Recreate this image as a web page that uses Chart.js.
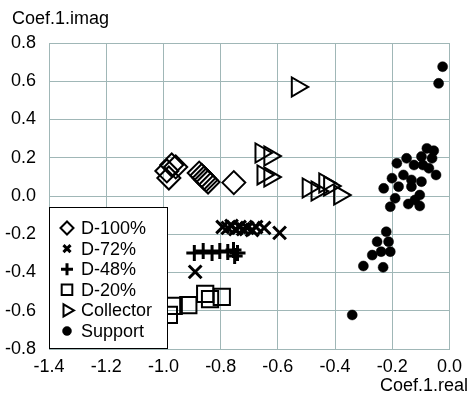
<!DOCTYPE html>
<html>
<head>
<meta charset="utf-8">
<script src="https://cdn.jsdelivr.net/npm/chart.js@4"></script>
<style>
  html, body { margin: 0; padding: 0; background: #fff; }
  #c { display: block; }
</style>
</head>
<body>
<canvas id="c" width="469" height="397"></canvas>
<script>
// Axis ticks
const xTicks = [-1.4, -1.2, -1.0, -0.8, -0.6, -0.4, -0.2, 0.0];
const yTicks = [-0.8, -0.6, -0.4, -0.2, 0.0, 0.2, 0.4, 0.6, 0.8];

// Series labels
const seriesNames = ['D-100%', 'D-72%', 'D-48%', 'D-20%', 'Collector', 'Support'];

// D-100%
const d100Re = [-0.988, -0.971, -0.957, -0.981, -0.875, -0.866, -0.858, -0.851, -0.844, -0.754];
const d100Im = [0.131, 0.162, 0.152, 0.094, 0.120, 0.107, 0.094, 0.084, 0.073, 0.070];

// D-72%
const d72Re = [-0.793, -0.775, -0.762, -0.748, -0.734, -0.721, -0.707, -0.690, -0.676, -0.648, -0.594, -0.889];
const d72Im = [-0.162, -0.167, -0.157, -0.173, -0.162, -0.173, -0.167, -0.178, -0.162, -0.167, -0.193, -0.397];

// D-48%
const d48Re = [-0.892, -0.861, -0.830, -0.803, -0.775, -0.755, -0.751, -0.741];
const d48Im = [-0.298, -0.288, -0.298, -0.288, -0.293, -0.282, -0.314, -0.298];

// D-20%
const d20Re = [-0.981, -0.964, -0.913, -0.854, -0.837, -0.796];
const d20Im = [-0.622, -0.575, -0.570, -0.512, -0.539, -0.528];

// Collector
const colRe = [-0.532, -0.659, -0.628, -0.652, -0.628, -0.494, -0.463, -0.436, -0.419, -0.384];
const colIm = [0.570, 0.225, 0.209, 0.110, 0.099, 0.042, 0.026, 0.068, 0.052, 0.005];

// Support
const supRe = [-0.024, -0.038, -0.079, -0.055, -0.098, -0.061, -0.150, -0.184, -0.124, -0.093,
               -0.072, -0.047, -0.201, -0.161, -0.133, -0.098, -0.230, -0.178, -0.133, -0.190,
               -0.104, -0.121, -0.207, -0.144, -0.104, -0.221, -0.253, -0.213, -0.270, -0.239,
               -0.207, -0.301, -0.232, -0.340];
const supIm = [0.676, 0.589, 0.249, 0.237, 0.206, 0.197, 0.197, 0.171, 0.162, 0.162,
               0.145, 0.110, 0.093, 0.110, 0.084, 0.075, 0.040, 0.049, 0.049, -0.012,
               0.005, -0.021, -0.056, -0.042, -0.052, -0.187, -0.239, -0.239, -0.309, -0.291,
               -0.291, -0.366, -0.373, -0.622];

const pts = (xs, ys) => xs.map((x, i) => ({ x: x, y: ys[i] }));

const FONT = 'Arial, "Liberation Sans", sans-serif';
const FSIZE = 18;
const GRID = '#a0b7b7';
const HOLLOW = 'rgba(0,0,0,0)';

// marker styles: chart marker and smaller legend marker
const markers = [
  { style: 'rectRot',  rot: 0,  r: 11.5, lr: 6.5, bw: 2,   fill: HOLLOW },
  { style: 'crossRot', rot: 0,  r: 9,    lr: 5,   bw: 3,   fill: '#000' },
  { style: 'cross',    rot: 0,  r: 8,    lr: 6,   bw: 3,   fill: '#000' },
  { style: 'rect',     rot: 0,  r: 11.5, lr: 7.5, bw: 2,   fill: HOLLOW },
  { style: 'triangle', rot: 90, r: 11,   lr: 7,   bw: 2,   fill: HOLLOW },
  { style: 'circle',   rot: 0,  r: 5,    lr: 4.5, bw: 0.5, fill: '#000' }
];

const seriesData = [
  pts(d100Re, d100Im), pts(d72Re, d72Im), pts(d48Re, d48Im),
  pts(d20Re, d20Im), pts(colRe, colIm), pts(supRe, supIm)
];

const datasets = seriesData.map((data, i) => ({
  label: seriesNames[i],
  data: data,
  pointStyle: markers[i].style,
  rotation: markers[i].rot,
  pointRadius: markers[i].r,
  pointHoverRadius: markers[i].r,
  borderWidth: markers[i].bw,
  borderColor: '#000',
  backgroundColor: markers[i].fill,
  showLine: false
}));

// Boxed legend sitting over the lower-left part of the plot
const legendBox = {
  id: 'legendBox',
  afterDatasetsDraw(chart) {
    const ctx = chart.ctx;
    const area = chart.chartArea;
    const L = area.left, R = 168, T = 207, B = area.bottom;
    ctx.save();
    ctx.fillStyle = '#fff';
    ctx.fillRect(L, T, R - L, B - T);
    ctx.strokeStyle = '#000';
    ctx.lineWidth = 1;
    ctx.strokeRect(L + 0.5, T + 0.5, R - L - 1, B - T - 1);
    ctx.font = FSIZE + 'px ' + FONT;
    ctx.textBaseline = 'middle';
    ctx.textAlign = 'left';
    chart.data.datasets.forEach((ds, i) => {
      const m = markers[i];
      const y = 228 + i * 20.6;
      ctx.strokeStyle = '#000';
      ctx.fillStyle = m.fill;
      ctx.lineWidth = m.bw;
      Chart.helpers.drawPoint(ctx, {
        pointStyle: m.style, rotation: m.rot, radius: m.lr, borderWidth: m.bw
      }, 67, y);
      ctx.fillStyle = '#000';
      ctx.fillText(ds.label, 81, y + 1);
    });
    ctx.restore();
  }
};

// Axis names placed at the ends of the axes
const axisNames = {
  id: 'axisNames',
  afterDraw(chart) {
    const ctx = chart.ctx;
    ctx.save();
    ctx.font = FSIZE + 'px ' + FONT;
    ctx.fillStyle = '#000';
    ctx.textBaseline = 'middle';
    ctx.textAlign = 'left';
    ctx.fillText('Coef.1.imag', 12, 19);
    ctx.textAlign = 'right';
    ctx.fillText('Coef.1.real', 468, 386);
    ctx.restore();
  }
};

new Chart(document.getElementById('c'), {
  type: 'scatter',
  data: { datasets: datasets },
  options: {
    responsive: false,
    animation: false,
    events: [],
    layout: { padding: { left: 0, top: 43, right: 12, bottom: 0 } },
    plugins: { legend: { display: false }, tooltip: { enabled: false } },
    scales: {
      x: {
        type: 'linear',
        min: xTicks[0], max: xTicks[xTicks.length - 1],
        afterBuildTicks: s => { s.ticks = xTicks.map(v => ({ value: v })); },
        afterFit: s => { s.height = 48; },
        grid: { color: GRID, lineWidth: 1, drawTicks: false },
        border: { color: GRID, width: 1 },
        ticks: {
          color: '#000', padding: 7, maxRotation: 0,
          font: { family: FONT, size: FSIZE },
          callback: v => v.toFixed(1)
        }
      },
      y: {
        type: 'linear',
        min: yTicks[0], max: yTicks[yTicks.length - 1],
        afterBuildTicks: s => { s.ticks = yTicks.map(v => ({ value: v })); },
        afterFit: s => { s.width = 49; },
        grid: { color: GRID, lineWidth: 1, drawTicks: false },
        border: { color: GRID, width: 1 },
        ticks: {
          color: '#000', padding: 13,
          font: { family: FONT, size: FSIZE },
          callback: v => v.toFixed(1)
        }
      }
    }
  },
  plugins: [legendBox, axisNames]
});
</script>
</body>
</html>
